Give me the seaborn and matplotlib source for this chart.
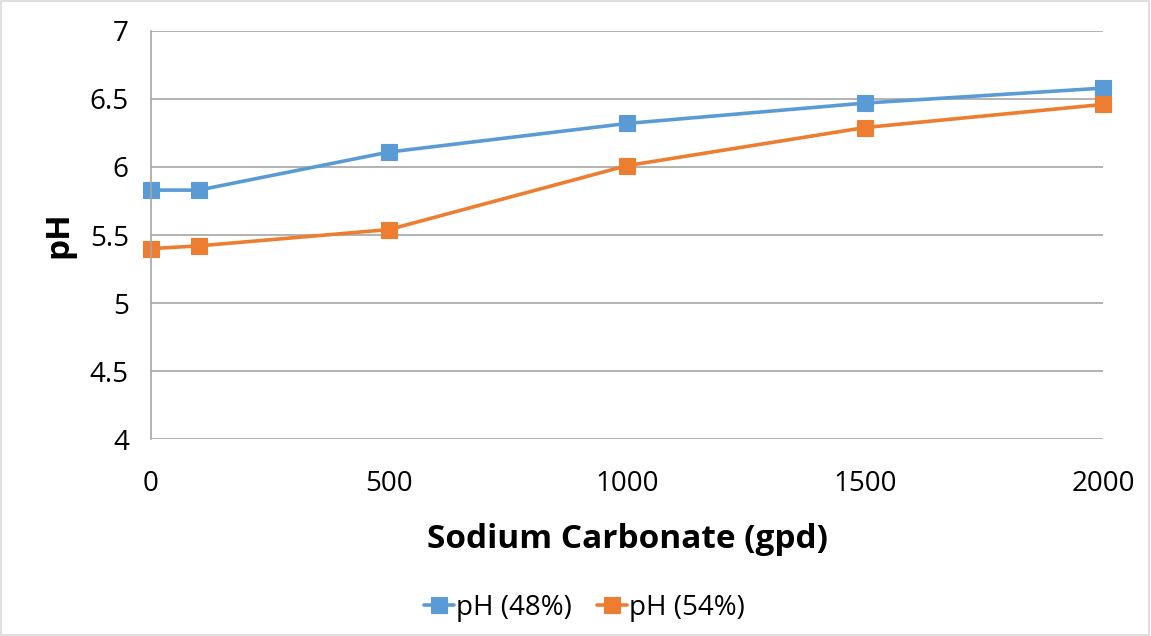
import numpy as np
import pandas as pd
import seaborn as sns
import matplotlib
matplotlib.use("Agg")
import matplotlib.pyplot as plt
from matplotlib.patches import Rectangle

x_vals = [0, 100, 500, 1000, 1500, 2000]
ph48 = [5.83, 5.83, 6.11, 6.32, 6.47, 6.58]
ph54 = [5.40, 5.42, 5.54, 6.01, 6.29, 6.46]
series_names = ["pH (48%)", "pH (54%)"]
colors = ["#5B9BD5", "#ED7D31"]

df = pd.DataFrame({
    "x": x_vals * 2,
    "y": ph48 + ph54,
    "series": [series_names[0]] * len(x_vals) + [series_names[1]] * len(x_vals),
})

sns.set_style("white")
plt.rcParams['font.family'] = ['Open Sans', 'DejaVu Sans']

fig = plt.figure(figsize=(11.51, 6.36), dpi=100)
ax = fig.add_axes([0.1312, 0.3097, 0.8271, 0.6416])

sns.lineplot(data=df, x="x", y="y", hue="series", palette=colors,
             marker="s", markersize=11, markeredgecolor=None, linewidth=2.6,
             ax=ax, legend=True)
for ln in ax.lines:
    ln.set_markeredgecolor(ln.get_color())
    ln.set_markeredgewidth(0.8)
    ln.set_clip_on(False)

ax.set_xlim(0, 2000)
ax.set_ylim(4, 7)
ax.set_xticks([0, 500, 1000, 1500, 2000])
ax.set_yticks([4, 4.5, 5, 5.5, 6, 6.5, 7])
ax.set_yticklabels(["4", "4.5", "5", "5.5", "6", "6.5", "7"])
ax.tick_params(axis="both", labelsize=20, length=0, colors="#000000")
ax.tick_params(axis="x", pad=22)
ax.tick_params(axis="y", pad=16)
ax.grid(axis="y", color="#A6A6A6", linewidth=1.2)
ax.set_axisbelow(True)
for s in ["top", "right", "bottom"]:
    ax.spines[s].set_visible(False)
ax.spines["left"].set_color("#A6A6A6")
ax.spines["left"].set_linewidth(1.2)

ax.set_xlabel("Sodium Carbonate (gpd)", fontsize=24, fontweight="bold", labelpad=18, color="black")
ax.set_ylabel("pH", fontsize=24, fontweight="bold", labelpad=10, color="black")

handles, labels = ax.get_legend_handles_labels()
for h in handles:
    h.set_markersize(11)
leg = ax.legend(handles, labels, loc="center", bbox_to_anchor=(0.455, -0.414),
                ncol=2, frameon=False, fontsize=20, handlelength=1.1,
                handletextpad=0.05, columnspacing=0.9)
for t in leg.get_texts():
    t.set_color("black")

fig.patches.append(Rectangle((0.001, 0.002), 0.997, 0.996, transform=fig.transFigure,
                             fill=False, edgecolor="#D9D9D9", linewidth=1.2))

fig.savefig("out.png", dpi=100)
